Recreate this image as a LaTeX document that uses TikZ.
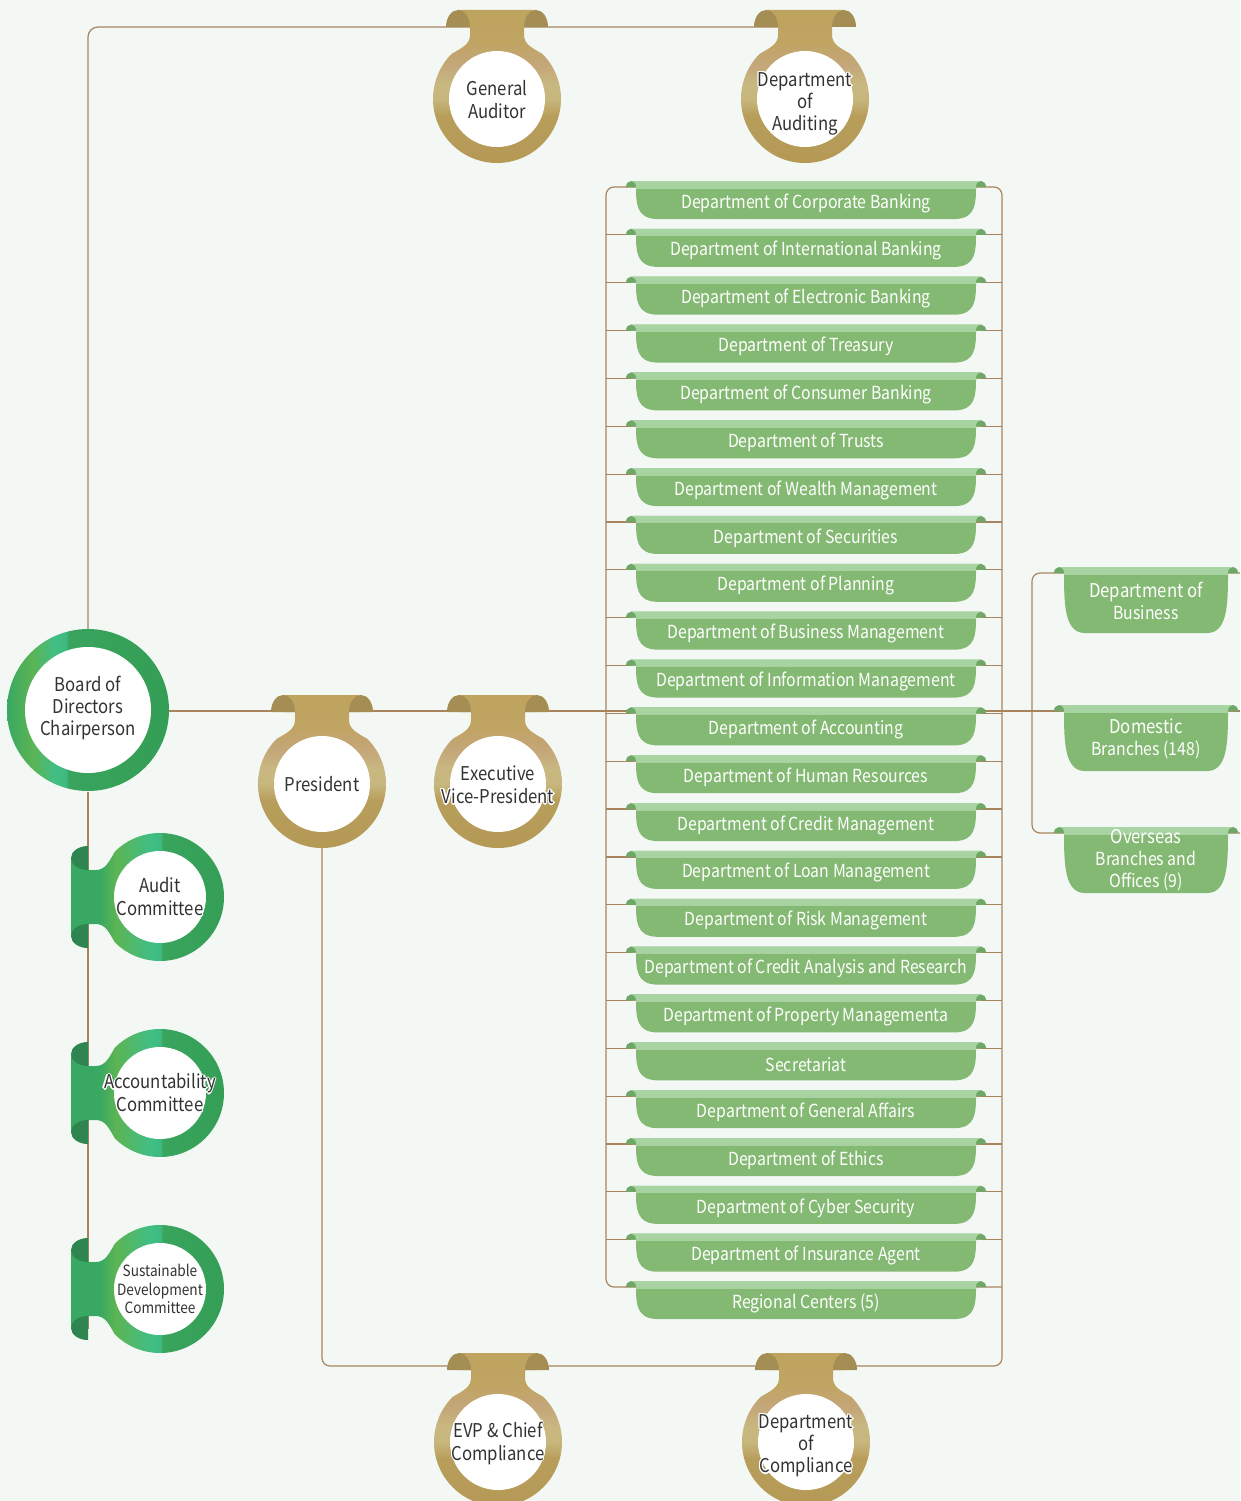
\documentclass[tikz,border=0pt]{standalone}
\usepackage{fontspec}
\setmainfont{Noto Sans CJK SC}[FakeStretch=0.88]
\usetikzlibrary{calc}
\definecolor{bgc}{HTML}{F3F8F5}
\definecolor{linec}{HTML}{A8845E}
\definecolor{txt}{HTML}{333333}
\definecolor{goldB}{HTML}{B49955}
\definecolor{goldB2}{HTML}{B89E5B}
\definecolor{goldL}{HTML}{C7B67D}
\definecolor{goldL2}{HTML}{C8B780}
\definecolor{goldP}{HTML}{C4A679}
\definecolor{goldN}{HTML}{C0A462}
\definecolor{goldT}{HTML}{BEA45F}
\definecolor{goldcurl}{HTML}{A48E53}
\definecolor{gA}{HTML}{38A862}
\definecolor{gB}{HTML}{5CB454}
\definecolor{gC}{HTML}{41BE85}
\definecolor{gD}{HTML}{3EBB80}
\definecolor{gE}{HTML}{39A45D}
\definecolor{gF}{HTML}{349E56}
\definecolor{gcurl}{HTML}{2E8550}
\definecolor{bnbody}{HTML}{84B973}
\definecolor{bntop}{HTML}{A9D4A3}
\definecolor{bntop2}{HTML}{9BCA93}
\definecolor{bncurl}{HTML}{6FA866}
\pgfdeclareverticalshading{goldshade}{100bp}{color(0bp)=(goldB); color(25bp)=(goldB); color(42bp)=(goldB2); color(47bp)=(goldL); color(52bp)=(goldL2); color(58bp)=(goldP); color(65bp)=(goldN); color(75bp)=(goldT); color(100bp)=(goldT)}
\pgfdeclarehorizontalshading{greenboard}{100bp}{color(0bp)=(gA); color(25bp)=(gA); color(32.8bp)=(gB); color(39.7bp)=(gC); color(43.1bp)=(gD); color(44bp)=(gE); color(75bp)=(gF); color(100bp)=(gF)}
\pgfdeclarehorizontalshading{greencomm}{100bp}{color(0bp)=(gA); color(25bp)=(gA); color(34bp)=(gA); color(39bp)=(gB); color(50bp)=(gC); color(53bp)=(gD); color(54bp)=(gE); color(75bp)=(gF); color(100bp)=(gF)}
\pgfdeclarelayer{back}
\pgfdeclarelayer{lines}
\pgfsetlayers{back,lines,main}
\tikzset{
  conn/.style={draw=linec, line width=1.2pt},
  medtxt/.style={align=center, text=txt, inner sep=0pt},
  bntxt/.style={align=center, text=white, inner sep=0pt, font=\fontsize{18}{22}\selectfont},
}
\newcommand\fmed{\fontsize{19}{23}\selectfont}
\newcommand\fmedb{\fontsize{19}{22}\selectfont}
\newcommand\fsmall{\fontsize{15.5}{18.5}\selectfont}
% white halo behind a text placed at (#1) relative offset #2
\newcommand\halotext[4]{% name, y offset, font, text
\foreach \hx/\hy in {1.3/0,-1.3/0,0/1.3,0/-1.3,0.9/0.9,-0.9/0.9,0.9/-0.9,-0.9/-0.9}
  \node[medtxt, font=#3, text=white] at (\hx,{#2+\hy}) {#4};
\node[medtxt, font=#3] (#1) at (0,#2) {#4};}
\newcommand\goldmed[6]{% name cx cy font text textdy
\begin{scope}[shift={(#2,#3)}]
\shade[shading=goldshade] (-39,-89) -- (39,-89) -- (39,-72) -- (27,-72) -- (27,-64) .. controls (27,-55) and (35,-51) .. (45.25,-45.25) arc[start angle=-45, end angle=225, radius=64] .. controls (-35,-51) and (-27,-55) .. (-27,-64) -- (-27,-72) -- (-39,-72) -- cycle;
\fill[goldcurl] (-51,-72) arc[x radius=12, y radius=17, start angle=180, end angle=360] -- cycle;
\fill[goldcurl] (27,-72) arc[x radius=12, y radius=17, start angle=180, end angle=360] -- cycle;
\fill[white] (0,0) circle[radius=48];
\halotext{#1}{#6}{#4}{#5}
\coordinate (#1-tab) at (0,-72);
\coordinate (#1-bot) at (0,64);
\end{scope}}
\newcommand\greenmed[6]{%
\begin{scope}[shift={(#2,#3)}]
\shade[shading=greencomm] (-89,-39) -- (-89,39) -- (-72,39) -- (-72,27) -- (-64,27) .. controls (-55,27) and (-51,35) .. (-45.25,45.25) arc[start angle=135, end angle=-135, radius=64] .. controls (-51,-35) and (-55,-27) .. (-64,-27) -- (-72,-27) -- (-72,-39) -- cycle;
\fill[gcurl] (-72,-51) arc[x radius=17, y radius=12, start angle=-90, end angle=-270] -- cycle;
\fill[gcurl] (-72,27) arc[x radius=17, y radius=12, start angle=-90, end angle=-270] -- cycle;
\fill[white] (0,0) circle[radius=46];
\halotext{#1}{#6}{#4}{#5}
\coordinate (#1-tab) at (-72,0);
\coordinate (#1-end) at (-72,40);
\end{scope}}
\newcommand\greenbanner[7]{%
\begin{scope}[shift={(#2,#3)}]
\fill[bnbody, path picture={\shade[top color=bntop, bottom color=bntop2] (path picture bounding box.north west) rectangle ([yshift=-7pt]path picture bounding box.north east);}] ({-#4-5},-6) -- ({#4+5},-6) -- ({#4+5},0) -- (#4,0) .. controls (#4,{#5*0.55}) and ({#4-1},{#5-1}) .. ({#4-20},#5) -- ({-#4+20},#5) .. controls ({-#4+1},{#5-1}) and (-#4,{#5*0.55}) .. (-#4,0) -- ({-#4-5},0) -- cycle;
\fill[bncurl] ({-#4-10},0) arc[x radius=5, y radius=6, start angle=180, end angle=360] -- cycle;
\fill[bncurl] (#4,0) arc[x radius=5, y radius=6, start angle=180, end angle=360] -- cycle;
\node[bntxt] (#1) at (0,#7) {#6};
\coordinate (#1-l) at (0,0);
\end{scope}}
\begin{document}
\begin{tikzpicture}[x=1pt, y=-1pt]
\begin{pgfonlayer}{back}
\fill[bgc] (0,0) rectangle (1240,1501);
\end{pgfonlayer}
\useasboundingbox (0,0) rectangle (1240,1501);
% board
\shade[shading=greenboard] (88,710) circle[radius=81];
\fill[white] (88,710) circle[radius=63];
\node[circle, minimum size=162pt, inner sep=0pt] (board) at (88,711) {};
\node[medtxt, font=\fmedb] (boardtxt) at (88,708) {Board of\\Directors\\Chairperson};
% gold medallions
\goldmed{gaud}{497}{99}{\fmed}{General\\Auditor}{1}
\goldmed{daud}{805}{99}{\fmedb}{Department\\of\\Auditing}{5}
\goldmed{pres}{322}{784}{\fmed}{President}{0}
\goldmed{evp}{498}{784}{\fmed}{Executive\\Vice-President}{1}
\goldmed{evpcc}{498}{1442}{\fmed}{EVP \& Chief\\Compliance}{1}
\goldmed{dcomp}{806}{1442}{\fmedb}{Department\\of\\Compliance}{4}
% committees
\greenmed{audc}{160}{897}{\fmed}{Audit\\Committee}{0}
\greenmed{accc}{160}{1093}{\fmed}{Accountability\\Committee}{0}
\greenmed{sdc}{160}{1289}{\fsmall}{Sustainable\\Development\\Committee}{0}
% departments
\foreach \t [count=\i] in {Department of Corporate Banking, Department of International Banking, Department of Electronic Banking, Department of Treasury, Department of Consumer Banking, Department of Trusts, Department of Wealth Management, Department of Securities, Department of Planning, Department of Business Management, Department of Information Management, Department of Accounting, Department of Human Resources, Department of Credit Management, Department of Loan Management, Department of Risk Management, Department of Credit Analysis and Research, Department of Property Managementa, Secretariat, Department of General Affairs, Department of Ethics, Department of Cyber Security, Department of Insurance Agent}{
  \pgfmathsetmacro\L{187+47.85*(\i-1)}
  \greenbanner{dep\i}{806}{\L}{170}{32}{\t}{16}
}
\greenbanner{dep24}{806}{1287}{170}{32}{Regional Centers (5)}{16.5}
% right banners
\greenbanner{biz}{1146}{573}{82}{60}{\fontsize{19}{22}\selectfont Department of\\Business}{28}
\greenbanner{dom}{1146}{711}{82}{60}{\fontsize{19}{22}\selectfont Domestic\\Branches (148)}{28}
\greenbanner{ovs}{1146}{833}{82}{60}{\fontsize{19}{21.5}\selectfont Overseas\\Branches and\\Offices (9)}{27.5}
% coordinates
\coordinate (boxTL) at (606,187);
\coordinate (boxTR) at (1002,187);
\coordinate (boxBL) at (606,1287);
\coordinate (boxBRi) at (1002,1287);
\coordinate (boxBR) at (1002,1366);
\coordinate (domend) at (1240,711);
\coordinate (bizend) at (1240,573);
\coordinate (ovsend) at (1240,833);
\coordinate (bktT) at (1032,573);
\coordinate (bktB) at (1032,833);
\begin{pgfonlayer}{lines}
\draw[conn, rounded corners=10] (board.north) |- (daud-tab);
\draw[conn] (board.east) -- (domend);
\draw[conn] (board.south) -- (sdc-end);
\draw[conn, rounded corners=8] (pres-bot) |- (boxBR) -- (boxTR) -- (boxTL) -- (boxBL) -- (boxBRi);
\foreach \i in {2,...,23} \draw[conn] (dep\i-l -| boxTL) -- (dep\i-l -| boxTR);
\draw[conn, rounded corners=8] (bizend) -- (bktT) -- (bktB) -- (ovsend);
\end{pgfonlayer}
\end{tikzpicture}
\end{document}
